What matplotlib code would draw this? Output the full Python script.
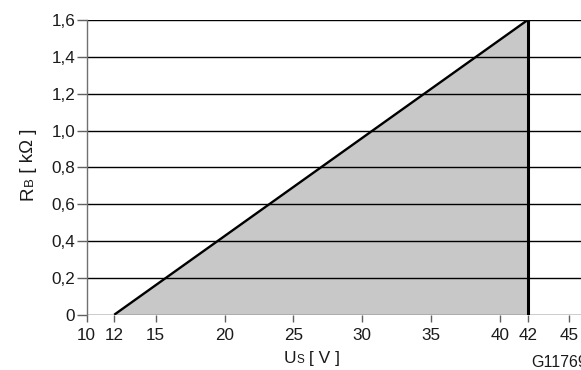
import matplotlib
matplotlib.use("Agg")
import matplotlib.pyplot as plt
from matplotlib.transforms import IdentityTransform

# Operating range: supply voltage Us [V] vs. load resistance RB [kOhm]
us_ticks = [10, 12, 15, 20, 25, 30, 35, 40, 42, 45]
rb_ticks = [0, 0.2, 0.4, 0.6, 0.8, 1.0, 1.2, 1.4, 1.6]
rb_tick_labels = ["0", "0,2", "0,4", "0,6", "0,8", "1,0", "1,2", "1,4", "1,6"]

# Boundary of the permitted region
us_boundary = [12, 42, 42]
rb_boundary = [0, 1.6, 0]

FONT = ["Liberation Sans", "DejaVu Sans"]
plt.rcParams["font.family"] = FONT

W, H, DPI = 581, 370, 100
fig = plt.figure(figsize=(W / DPI, H / DPI), dpi=DPI)
ax = fig.add_axes([86.7 / W, 1 - 314.7 / H, 1 - 86.7 / W, (314.7 - 20) / H])

ax.set_xlim(10, 45.87)
ax.set_ylim(0, 1.6)

# shaded region
ax.fill(us_boundary, rb_boundary, color="#c7c8c7", lw=0, zorder=1)

# horizontal grid
for v in rb_ticks:
    ax.axhline(v, color="black", lw=1.0, zorder=2)

# boundary line
ax.plot(us_boundary[:2], rb_boundary[:2], color="black", lw=1.7,
        solid_capstyle="butt", zorder=3)
ax.plot([us_boundary[1], us_boundary[2]], [rb_boundary[1], rb_boundary[2]],
        color="black", lw=2.2, solid_capstyle="butt", zorder=3)

for s in ["top", "right", "bottom"]:
    ax.spines[s].set_visible(False)
ax.spines["left"].set_color("#707070")
ax.spines["left"].set_linewidth(1.0)

ax.set_xticks(us_ticks)
ax.set_xticklabels([str(t) for t in us_ticks])
ax.set_yticks(rb_ticks)
ax.set_yticklabels(rb_tick_labels)
ax.tick_params(axis="x", length=5, width=1.0, color="#606060", pad=4.5,
               labelsize=12.3, labelcolor="#1a1a1a")
ax.tick_params(axis="y", length=7, width=1.0, color="#606060", pad=1.2,
               labelsize=12.3, labelcolor="#1a1a1a")

fig.canvas.draw()
renderer = fig.canvas.get_renderer()


def place_pieces(parts, x0, y0, rotation=0):
    """Write text pieces one after the other on a common baseline (pixels)."""
    pos = 0.0
    for txt, size in parts:
        probe = fig.text(0, 0, txt, fontsize=size, transform=IdentityTransform())
        width = probe.get_window_extent(renderer).width
        probe.remove()
        if rotation == 0:
            x, y = x0 + pos, y0
        else:
            x, y = x0, y0 + pos
        fig.text(x, y, txt, fontsize=size, rotation=rotation,
                 rotation_mode="anchor", ha="left", va="baseline",
                 color="#1a1a1a", transform=IdentityTransform())
        pos += width


# x axis label: Us [ V ]
place_pieces([("U", 12.5), ("S", 8.5), (" [ V ]", 12.5)], 284, H - 363)
# y axis label: RB [ kΩ ]
place_pieces([("R", 13.5), ("B", 9.5), (" [ kΩ ]", 13.5)], 33, H - 200,
             rotation=90)

# drawing number
fig.text(531.5, H - 367, "G11769", fontsize=11.5, ha="left", va="baseline",
         color="#1a1a1a", transform=IdentityTransform())

fig.savefig("out.png", dpi=DPI)
